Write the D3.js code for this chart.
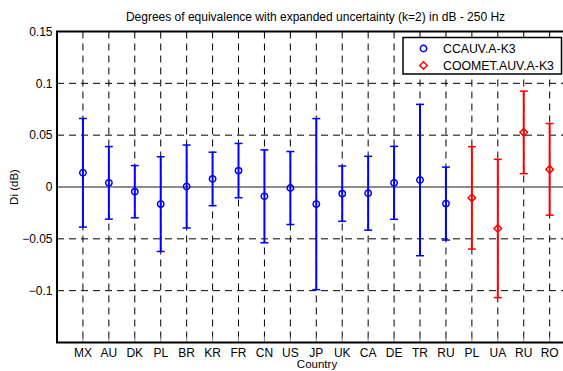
<!DOCTYPE html>
<html>
<head>
<meta charset="utf-8">
<script src="https://cdn.jsdelivr.net/npm/d3@7"></script>
<style>
  body { margin: 0; background: #fff; }
  svg { display: block; }
</style>
</head>
<body>
<svg width="563" height="371"></svg>
<script>
// Countries along the x axis, in plot order
const countries = ["MX", "AU", "DK", "PL", "BR", "KR", "FR", "CN", "US", "JP",
                   "UK", "CA", "DE", "TR", "RU", "PL", "UA", "RU", "RO"];
// Which comparison each point comes from
const groups = ["CCAUV.A-K3", "CCAUV.A-K3", "CCAUV.A-K3", "CCAUV.A-K3", "CCAUV.A-K3",
                "CCAUV.A-K3", "CCAUV.A-K3", "CCAUV.A-K3", "CCAUV.A-K3", "CCAUV.A-K3",
                "CCAUV.A-K3", "CCAUV.A-K3", "CCAUV.A-K3", "CCAUV.A-K3", "CCAUV.A-K3",
                "COOMET.AUV.A-K3", "COOMET.AUV.A-K3", "COOMET.AUV.A-K3", "COOMET.AUV.A-K3"];
// Degree of equivalence Di (dB)
const di = [0.0137, 0.0040, -0.0045, -0.0165, 0.0005, 0.0078, 0.0158, -0.0090, -0.0010, -0.0165,
            -0.0064, -0.0060, 0.0040, 0.0067, -0.0160, -0.0105, -0.0400, 0.0527, 0.0170];
// Expanded uncertainty U (k=2)
const uncert = [0.0524, 0.0350, 0.0252, 0.0457, 0.0400, 0.0258, 0.0262, 0.0448, 0.0352, 0.0825,
                0.0267, 0.0356, 0.0352, 0.0730, 0.0352, 0.0494, 0.0667, 0.0398, 0.0442];
const yTicks = [0.15, 0.1, 0.05, 0, -0.05, -0.1];
const gridY = [0.1, 0.05, -0.05, -0.1];

const svg = d3.select("svg");
const font = "Liberation Sans, Arial, sans-serif";
const colors = {"CCAUV.A-K3": "#0000ff", "COOMET.AUV.A-K3": "#ff0000"};

const plotLeft = 57, plotTop = 31.5, plotBottom = 342.5;
const x = d3.scaleLinear().domain([0, countries.length + 1]).range([plotLeft, plotLeft + 20 * 25.93]);
const y = d3.scaleLinear().domain([-0.15, 0.15]).range([plotBottom, plotTop]);

const points = countries.map((c, i) => ({
  country: c, pos: i + 1, group: groups[i], v: di[i], u: uncert[i]
}));

// Title
svg.append("text")
   .attr("x", 315.5)
   .attr("y", 21)
   .attr("text-anchor", "middle")
   .attr("font-family", font)
   .attr("font-size", "12px")
   .attr("fill", "#000")
   .text("Degrees of equivalence with expanded uncertainty (k=2) in dB - 250 Hz");

// Dashed grid
svg.append("g").selectAll("line")
   .data(points)
   .join("line")
   .attr("x1", d => x(d.pos)).attr("x2", d => x(d.pos))
   .attr("y1", plotTop).attr("y2", plotBottom)
   .attr("stroke", "#000")
   .attr("stroke-width", 1)
   .attr("stroke-dasharray", "7,5");

svg.append("g").selectAll("line")
   .data(gridY)
   .join("line")
   .attr("x1", plotLeft).attr("x2", 600)
   .attr("y1", d => y(d)).attr("y2", d => y(d))
   .attr("stroke", "#000")
   .attr("stroke-width", 1)
   .attr("stroke-dasharray", "7,5");

// Zero line
svg.append("line")
   .attr("x1", plotLeft).attr("x2", 600)
   .attr("y1", y(0)).attr("y2", y(0))
   .attr("stroke", "#666")
   .attr("stroke-width", 1.6);

// Gray inward ticks on the bottom axis
svg.append("g").selectAll("line")
   .data(points)
   .join("line")
   .attr("x1", d => x(d.pos)).attr("x2", d => x(d.pos))
   .attr("y1", plotBottom).attr("y2", plotBottom - 6)
   .attr("stroke", "#888")
   .attr("stroke-width", 1);

// Axis frame
svg.append("path")
   .attr("d", `M600,${plotTop} H${plotLeft} V${plotBottom} H600`)
   .attr("fill", "none")
   .attr("stroke", "#000")
   .attr("stroke-width", 2);

// Y tick labels
svg.append("g").selectAll("text")
   .data(yTicks)
   .join("text")
   .attr("x", 52.5)
   .attr("y", d => y(d) + 4.3)
   .attr("text-anchor", "end")
   .attr("font-family", font)
   .attr("font-size", "12px")
   .attr("fill", "#000")
   .text(d => d3.format("")(d));

// X tick labels
svg.append("g").selectAll("text")
   .data(points)
   .join("text")
   .attr("x", d => x(d.pos))
   .attr("y", 356.5)
   .attr("text-anchor", "middle")
   .attr("font-family", font)
   .attr("font-size", "12px")
   .attr("fill", "#000")
   .text(d => d.country);

// Axis labels
svg.append("text")
   .attr("x", 317)
   .attr("y", 368)
   .attr("text-anchor", "middle")
   .attr("font-family", font)
   .attr("font-size", "11.5px")
   .text("Country");

svg.append("text")
   .attr("transform", `translate(18,${y(0)}) rotate(-90)`)
   .attr("text-anchor", "middle")
   .attr("font-family", font)
   .attr("font-size", "11.5px")
   .text("Di (dB)");

// Error bars
const bars = svg.append("g").selectAll("g")
   .data(points)
   .join("g")
   .attr("stroke", d => colors[d.group])
   .attr("fill", "none")
   .attr("stroke-width", 2);

bars.append("line")
   .attr("x1", d => x(d.pos)).attr("x2", d => x(d.pos))
   .attr("y1", d => y(d.v + d.u)).attr("y2", d => y(d.v - d.u));

bars.append("line")
   .attr("x1", d => x(d.pos) - 4).attr("x2", d => x(d.pos) + 4)
   .attr("y1", d => y(d.v + d.u)).attr("y2", d => y(d.v + d.u))
   .attr("stroke-width", 1.5);

bars.append("line")
   .attr("x1", d => x(d.pos) - 4).attr("x2", d => x(d.pos) + 4)
   .attr("y1", d => y(d.v - d.u)).attr("y2", d => y(d.v - d.u))
   .attr("stroke-width", 1.5);

// Markers: circle for CCAUV, diamond for COOMET
function marker(sel, group) {
  if (group === "CCAUV.A-K3") {
    sel.append("circle").attr("r", 3.2);
  } else {
    sel.append("path").attr("d", "M0,-3.8 L3.8,0 L0,3.8 L-3.8,0 Z");
  }
}

bars.each(function(d) {
  const g = d3.select(this).append("g")
     .attr("transform", `translate(${x(d.pos)},${y(d.v)})`)
     .attr("stroke-width", 1.5);
  marker(g, d.group);
});

// Legend
const legend = svg.append("g");
legend.append("rect")
   .attr("x", 403)
   .attr("y", 37.5)
   .attr("width", 158.5)
   .attr("height", 36.5)
   .attr("fill", "#fff")
   .attr("stroke", "#000")
   .attr("stroke-width", 1.5);

Object.keys(colors).forEach((name, i) => {
  const ly = 48.5 + i * 17;
  const m = legend.append("g")
     .attr("transform", `translate(423.5,${ly})`)
     .attr("stroke", colors[name])
     .attr("fill", "none")
     .attr("stroke-width", 1.5);
  marker(m, name);
  legend.append("text")
     .attr("x", 443)
     .attr("y", ly + 4.3)
     .attr("font-family", font)
     .attr("font-size", "12.3px")
     .attr("fill", "#000")
     .text(name);
});
</script>
</body>
</html>
